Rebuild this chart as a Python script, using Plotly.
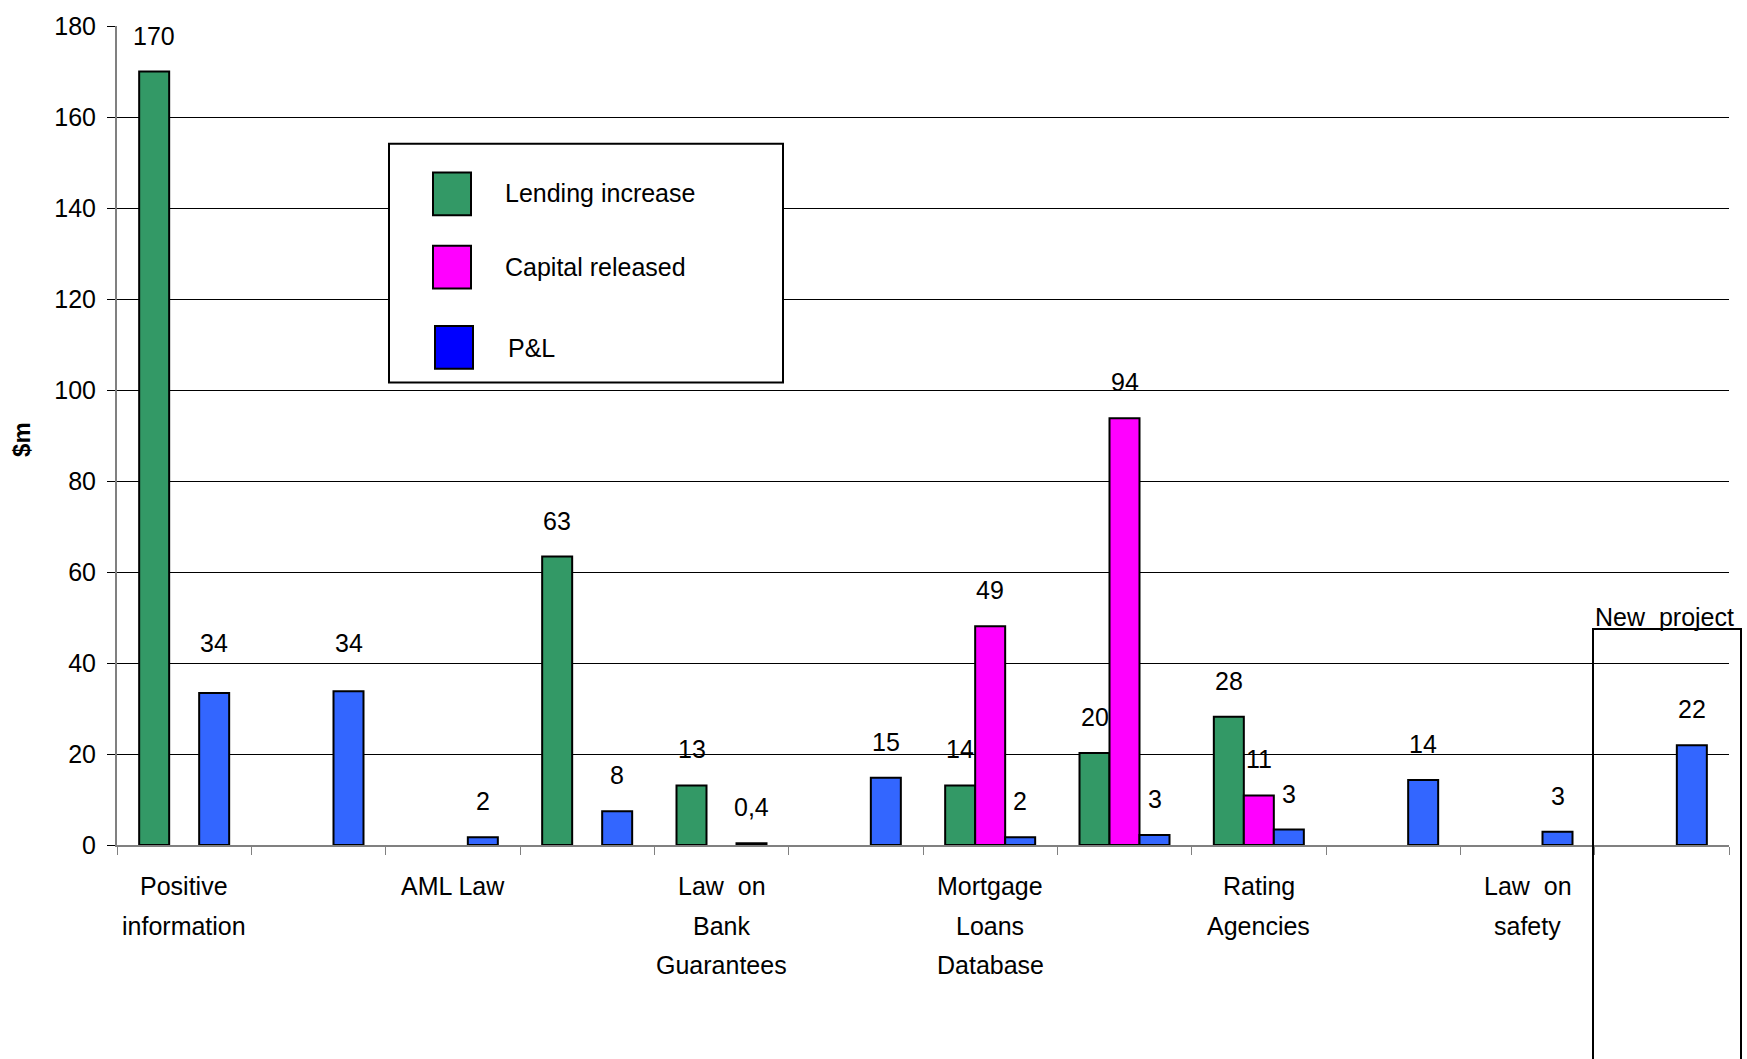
import plotly.graph_objects as go

# ---------------- data ----------------
slot_labels = ["Positive<br>information", "", "AML Law", "", "Law\u00a0 on<br>Bank<br>Guarantees", "",
               "Mortgage<br>Loans<br>Database", "", "Rating<br>Agencies", "", "Law\u00a0 on<br>safety", ""]
series_names = ["Lending increase", "Capital released", "P&L"]
lending_increase = [170, None, None, 63.4, 13.1, None, 13.1, 20.2, 28.2, None, None, None]
capital_released = [None, None, None, None, None, None, 48.1, 93.8, 10.9, None, None, None]
pnl = [33.4, 33.8, 1.7, 7.4, 0.4, 14.8, 1.7, 2.2, 3.4, 14.3, 2.9, 21.9]
lending_labels = ["170", "", "", "63", "13", "", "14", "20", "28", "", "", ""]
capital_labels = ["", "", "", "", "", "", "49", "94", "11", "", "", ""]
pnl_labels = ["34", "34", "2", "8", "0,4", "15", "2", "3", "3", "14", "3", "22"]
y_ticks = [0, 20, 40, 60, 80, 100, 120, 140, 160, 180]
new_project_text = "New\u00a0 project"
y_title = "$m"

# ---------------- styling ----------------
W, H = 1747, 1059
L, R, T, B = 117, 1729, 18, 845
FONT = "Liberation Sans, Arial, sans-serif"
FS = 25
bar_colors = ["#339966", "#FF00FF", "#3366FF"]
legend_colors = ["#339966", "#FF00FF", "#0000FF"]


def px(x):
    return (x - L) / (R - L)


def py(y):
    return (B - y) / (B - T)


slots = list(range(len(slot_labels)))
series_values = [lending_increase, capital_released, pnl]
series_labels = [lending_labels, capital_labels, pnl_labels]

fig = go.Figure()
for name, vals, col in zip(series_names, series_values, bar_colors):
    fig.add_trace(go.Bar(
        x=slots, y=vals, name=name, marker=dict(color=col, line=dict(color="black", width=2)),
        showlegend=False, hoverinfo="skip"))

annotations = []
extra_shift = {(2, 0): 14, (2, 1): 12}
n = len(series_names)
bar_w = (1 - 0.33) / n
for si, (vals, labs) in enumerate(zip(series_values, series_labels)):
    for i, (v, t) in enumerate(zip(vals, labs)):
        if v is None or not t:
            continue
        off = (si - (n - 1) / 2) * bar_w
        annotations.append(dict(
            x=i + off, y=v, xref="x", yref="y", text=t, showarrow=False,
            yanchor="middle", xanchor="center", yshift=36 + extra_shift.get((si, i), 0),
            font=dict(family=FONT, size=FS, color="black")))

# category labels (one annotation per line for wider line spacing)
for i, lab in enumerate(slot_labels):
    if not lab:
        continue
    for li, line in enumerate(lab.split("<br>")):
        annotations.append(dict(
            x=i, y=0, xref="x", yref="y", text=line, showarrow=False,
            yanchor="middle", xanchor="center", yshift=-(41 + 39.5 * li),
            font=dict(family=FONT, size=FS, color="black")))

# y title
annotations.append(dict(x=px(22), y=py(436), xref="paper", yref="paper", text="<b>%s</b>" % y_title,
                        showarrow=False, textangle=-90, xanchor="center", yanchor="middle",
                        font=dict(family=FONT, size=24, color="black")))

shapes = []
# manual legend
shapes.append(dict(type="rect", xref="paper", yref="paper", x0=px(389), x1=px(783), y0=py(378), y1=py(137),
                   line=dict(color="black", width=2), fillcolor="white", layer="above"))
sw = [(433, 166), (433, 240), (435, 321)]
ty = [187, 261, 343]
tx = [503, 503, 506]
for k in range(3):
    x0, y0 = sw[k]
    shapes.append(dict(type="rect", xref="paper", yref="paper", x0=px(x0), x1=px(x0 + 38),
                       y0=py(y0 + 43), y1=py(y0), line=dict(color="black", width=2),
                       fillcolor=legend_colors[k], layer="above"))
    annotations.append(dict(x=px(tx[k]), y=py(ty[k]), xref="paper", yref="paper", text=series_names[k],
                            showarrow=False, xanchor="left", yanchor="middle",
                            font=dict(family=FONT, size=FS, color="black")))

# new project box
shapes.append(dict(type="rect", xref="paper", yref="paper", x0=px(1593), x1=px(1741),
                   y0=py(1075), y1=py(627), line=dict(color="black", width=2), layer="above"))
annotations.append(dict(x=px(1664), y=py(615), xref="paper", yref="paper", text=new_project_text,
                        showarrow=False, xanchor="center", yanchor="middle",
                        font=dict(family=FONT, size=FS, color="black")))

boundaries = [s - 0.5 for s in slots] + [slots[-1] + 0.5]

fig.update_layout(
    width=W, height=H,
    margin=dict(l=L, r=W - R, t=T, b=H - B, pad=0),
    paper_bgcolor="white", plot_bgcolor="white",
    barmode="group", bargap=0.33, bargroupgap=0,
    font=dict(family=FONT, size=FS, color="black"),
    annotations=annotations, shapes=shapes, showlegend=False,
    xaxis=dict(range=[-0.5, slots[-1] + 0.5], tickmode="array", tickvals=boundaries,
               ticktext=[""] * len(boundaries), ticks="outside", ticklen=8, tickcolor="#808080",
               showline=True, linecolor="#808080", linewidth=2, showgrid=False, zeroline=False),
    yaxis=dict(range=[0, 180], tickmode="array", tickvals=y_ticks, ticks="outside", ticklen=8,
               tickcolor="#000000", showline=True, linecolor="#808080", linewidth=2,
               showgrid=True, gridcolor="#000000", gridwidth=1, zeroline=False,
               tickfont=dict(family=FONT, size=FS, color="black"), ticklabelstandoff=6),
)

fig.write_html("out.html")
